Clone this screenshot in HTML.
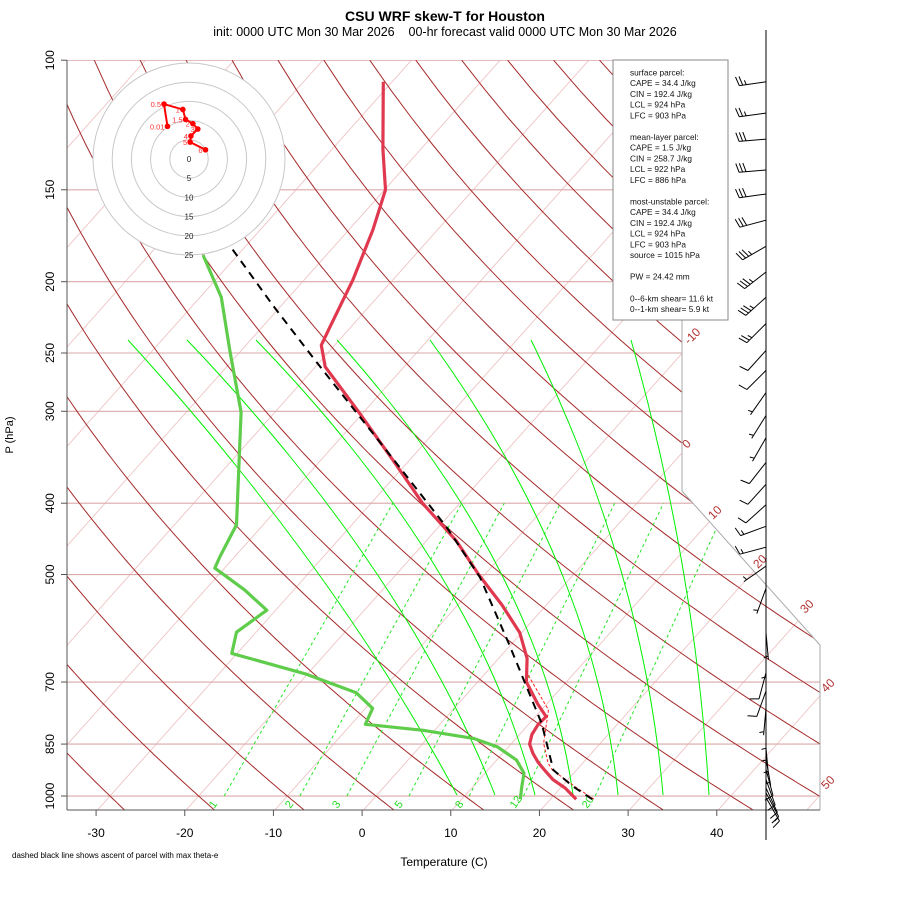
<!DOCTYPE html>
<html><head><meta charset="utf-8"><style>
html,body{margin:0;padding:0;background:#fff;}
svg{display:block;font-family:"Liberation Sans",sans-serif;}
</style></head><body>
<svg id="chart" xmlns="http://www.w3.org/2000/svg" width="900" height="900" viewBox="0 0 900 900">
<defs><clipPath id="plotclip"><polygon points="67,60 682,60 682,491 820,645 820,810 67,810"/></clipPath></defs>
<rect x="0" y="0" width="900" height="900" fill="#fff"/>
<text x="445" y="21" text-anchor="middle" font-size="14" font-weight="bold">CSU WRF skew-T for Houston</text>
<text x="445" y="36" text-anchor="middle" font-size="12.5" xml:space="preserve">init: 0000 UTC Mon 30 Mar 2026&#160;&#160;&#160;&#160;00-hr forecast valid 0000 UTC Mon 30 Mar 2026</text>
<g id="bg" clip-path="url(#plotclip)"></g>
<g id="border">
<polyline points="682,60 682,491 820,645 820,810" fill="none" stroke="#aaa" stroke-width="1"/>
<line x1="67" y1="60" x2="67" y2="810" stroke="#555" stroke-width="1"/>
<line x1="67" y1="810" x2="820" y2="810" stroke="#555" stroke-width="1"/>
</g>
<g id="labels"></g>
<g id="series"></g>
<g id="hodo"></g>
<g id="barbs"><line x1="766" y1="30" x2="766" y2="840" stroke="#000" stroke-width="1"/></g>
<g id="legend"><rect x="613" y="60" width="115" height="260" fill="#fff" stroke="#888" stroke-width="1"/></g>
<text transform="translate(13,435) rotate(-90)" text-anchor="middle" font-size="11">P (hPa)</text>
<text x="444" y="866" text-anchor="middle" font-size="12">Temperature (C)</text>
<text x="12" y="858" font-size="8">dashed black line shows ascent of parcel with max theta-e</text>
</svg>
<script>
// ---- data ----
const tempP = [1010,975,950,925,900,875,850,825,800,780,750,700,650,600,550,500,450,400,350,300,261,244,230,199,170,150,132,107];
const tempT = [22.9,20.5,18.3,16.6,14.9,13.4,12.1,11.4,11.1,11.2,9.0,5.5,3.2,-0.2,-5.0,-10.7,-16.6,-24.2,-31.8,-40.7,-48.9,-51.5,-52.4,-54.5,-57.3,-59.9,-64.3,-71.0];
const dewP = [1010,971,931,893,857,835,814,799,760,724,683,640,599,559,525,490,472,428,332,301,248,210,184];
const dewT = [16.6,15.5,14.4,12.2,8.7,5.2,-1.3,-8.4,-9.2,-12.6,-20.1,-30.6,-32.2,-31.0,-35.5,-41.1,-41.7,-43.0,-50.8,-53.8,-61.3,-67.6,-73.9];
const parcelP = [1010,971,922,797,703,620,504,431,339,257,216,180,106];
const parcelT = [24.7,21.3,17.4,11.4,5.5,-0.4,-10.3,-19.1,-33.6,-50.4,-60.8,-71.4,-99.4];
const vtP = [1010,971,922,902,848,764,681];
const vtT = [24.9,21.5,17.3,16.1,13.6,10.8,4.7];
const windP = [107,118,128,141,152,165,179,194,210,228,248,264,283,304,326,352,377,402,430,459,487,522,600,640,680,720,760,800,830,860,890,920,950,975,990,1005];
const windDir = [262,262,265,265,262,255,240,232,228,225,222,225,215,212,210,218,222,228,250,255,235,200,175,180,195,200,185,180,180,175,170,165,160,155,152,150];
const windSpd = [25,25,30,30,30,30,35,35,35,25,10,10,5,5,5,10,10,10,15,15,5,5,5,5,10,10,5,5,5,5,5,10,10,10,10,15];
const hodoU = [-5.6,-6.5,-1.6,-0.9,1.0,2.3,0.5,0.3,4.3];
const hodoV = [8.5,14.3,12.9,10.3,9.2,7.8,6.0,4.4,2.4];
const hodoLab = ["0.01","0.5","1","1.5","2","3","4","5","6"];
const pressTicks = [100,150,200,250,300,400,500,700,850,1000];
const tempTicks = [-30,-20,-10,0,10,20,30,40];
const mixRatios = [1,2,3,5,8,12,20];
const isoLabels = [-10,0,10,20,30,40,50];
// moist adiabat guide curves (background): x at y=795, y=600, y=340
const moistBottomX = [457,495,535,573,618,663,709];
const moistMidX = [337,394,455,514,572,629,688];
const moistTopX = [128,187,256,337,430,531,631];
const legendLines = ["surface parcel:","CAPE = 34.4 J/kg","CIN = 192.4 J/kg","LCL = 924 hPa","LFC = 903 hPa","","mean-layer parcel:","CAPE = 1.5 J/kg","CIN = 258.7 J/kg","LCL = 922 hPa","LFC = 886 hPa","","most-unstable parcel:","CAPE = 34.4 J/kg","CIN = 192.4 J/kg","LCL = 924 hPa","LFC = 903 hPa","source = 1015 hPa","","PW =  24.42 mm","","0--6-km shear= 11.6 kt","0--1-km shear= 5.9 kt"];

// ---- axes ----
const NS='http://www.w3.org/2000/svg';
function ty(p){return 132.182-44.061*Math.log10(p);}
function Y(p){return 796-16.7*ty(p);}
function X(T,p){return 376+16.42*(0.54*T+0.90692*ty(p));}
function mk(tag,attrs,parent){const e=document.createElementNS(NS,tag);for(const k in attrs)e.setAttribute(k,attrs[k]);parent.appendChild(e);return e;}
function pathFrom(P,T){let d='';for(let i=0;i<P.length;i++){d+=(i?'L':'M')+X(T[i],P[i]).toFixed(1)+','+Y(P[i]).toFixed(1);}return d;}
const bg=document.getElementById('bg');
const labels=document.getElementById('labels');
const series=document.getElementById('series');

// isotherms
for(let T=-110;T<=50;T+=10){
  const l=mk('line',{x1:X(T,1050),y1:Y(1050),x2:X(T,100),y2:Y(100),stroke:'#efc4c4','stroke-width':0.9},bg);
  
  
}
// pressure lines
pressTicks.forEach(p=>{
  const l=mk('line',{x1:67,y1:Y(p),x2:820,y2:Y(p),stroke:'#dba8a8','stroke-width':1.1},bg);
  
  
});
// dry adiabats
for(let th=-30;th<=180;th+=10){
  let d='';let first=true;
  for(let p=1050;p>=100;p-=10){const T=(th+273.15)*Math.pow(p/1000,0.2857)-273.15;d+=(first?'M':'L')+X(T,p).toFixed(1)+','+Y(p).toFixed(1);first=false;}
  const pa=mk('path',{d:d,fill:'none',stroke:'#a52a2a','stroke-width':1},bg);
  
  
}
// moist adiabats (quadratic through three guide points)
moistBottomX.forEach((xb,i)=>{
  const y0=795,y1=600,y2=340,x1=moistMidX[i],x2=moistTopX[i];
  let d='';
  for(let y=y0;y>=y2;y-=5){
    const L0=(y-y1)*(y-y2)/((y0-y1)*(y0-y2)),L1=(y-y0)*(y-y2)/((y1-y0)*(y1-y2)),L2=(y-y0)*(y-y1)/((y2-y0)*(y2-y1));
    const x=xb*L0+x1*L1+x2*L2;
    d+=(y===y0?'M':'L')+x.toFixed(1)+','+y;
  }
  const pa=mk('path',{d:d,fill:'none',stroke:'#00f000','stroke-width':1},bg);
  
  
});
// mixing ratio lines
function tdw(w,p){const e=w*p/(622+w);const l=Math.log(e/6.112);return 243.5*l/(17.67-l);}
mixRatios.forEach(w=>{
  const l=mk('line',{x1:X(tdw(w,1000),1000),y1:Y(1000),x2:X(tdw(w,400),400),y2:Y(400),stroke:'#22e622','stroke-width':1,'stroke-dasharray':'3,3'},bg);
  
  
  const lx=X(tdw(w,1045),1045);
  const t=mk('text',{transform:'translate('+(lx-2)+',809) rotate(-55)','font-size':11,fill:'#22dd22'},labels);
  t.textContent=String(w);
  
  
});
// isotherm labels
const isoPos=[[689,345],[687,449],[713,520],[758,569],[805,614],[826,693],[826,790]];
isoLabels.forEach((v,i)=>{
  const t=mk('text',{transform:'translate('+isoPos[i][0]+','+isoPos[i][1]+') rotate(-45)','font-size':12,fill:'#b33030'},labels);
  t.textContent=String(v);
  
  
});
// y ticks
pressTicks.forEach(p=>{
  const y=Y(p);
  const tk=mk('line',{x1:61,y1:y,x2:67,y2:y,stroke:'#555','stroke-width':1},labels);
  
  
  const t=mk('text',{transform:'translate(54,'+y+') rotate(-90)','text-anchor':'middle','font-size':12},labels);
  t.textContent=String(p);
  
  
});
// x ticks
tempTicks.forEach(T=>{
  const x=362.1+8.867*T;
  const tk=mk('line',{x1:x,y1:810,x2:x,y2:816,stroke:'#555','stroke-width':1},labels);
  
  
  const t=mk('text',{x:x,y:837,'text-anchor':'middle','font-size':12},labels);
  t.textContent=String(T);
  
  
});

// ---- series ----
const dew=mk('path',{d:pathFrom(dewP,dewT),fill:'none',stroke:'#5fcd4b','stroke-width':3.2,'stroke-linejoin':'round'},series);


const tmp=mk('path',{d:pathFrom(tempP,tempT),fill:'none',stroke:'#e0394f','stroke-width':3.2,'stroke-linejoin':'round'},series);


const vt=mk('path',{d:pathFrom(vtP,vtT),fill:'none',stroke:'#ff2020','stroke-width':1,'stroke-dasharray':'3,2'},series);


const par=mk('path',{d:pathFrom(parcelP,parcelT),fill:'none',stroke:'#000','stroke-width':2,'stroke-dasharray':'8,6'},series);



// ---- hodograph ----
const hodo=document.getElementById('hodo');
const hcx=189,hcy=159,hs=19.2/5;
for(let k=5;k>=1;k--){
  const c=mk('circle',{cx:hcx,cy:hcy,r:k*19.2,fill:k===5?'#fff':'none',stroke:'#c8c8c8','stroke-width':1},hodo);
  
  
}
for(let k=0;k<=5;k++){
  const t=mk('text',{x:hcx,y:hcy+k*19.2+3,'text-anchor':'middle','font-size':8,fill:'#222'},hodo);
  t.textContent=String(k*5);
  
  
}
let hd='';
hodoU.forEach((u,i)=>{hd+=(i?'L':'M')+(hcx+u*hs).toFixed(1)+','+(hcy-hodoV[i]*hs).toFixed(1);});
const hl=mk('path',{d:hd,fill:'none',stroke:'#f00','stroke-width':2},hodo);


hodoU.forEach((u,i)=>{
  const px=hcx+u*hs,py=hcy-hodoV[i]*hs;
  const c=mk('circle',{cx:px,cy:py,r:2.8,fill:'#f00'},hodo);
  
  
  const t=mk('text',{x:px-3,y:py+3,'text-anchor':'end','font-size':7.5,fill:'#f33'},hodo);
  t.textContent=hodoLab[i];
  
  
});

// ---- wind barbs ----
const barbs=document.getElementById('barbs');
windP.forEach((p,i)=>{
  const y=Y(p),x0=766,L=27;
  const r=windDir[i]*Math.PI/180;
  const sx=Math.sin(r),sy=-Math.cos(r);
  const fx=-sy,fy=sx;
  const g=mk('g',{},barbs);
  
  
  const ex=x0+L*sx,ey=y+L*sy;
  let d='M'+x0+','+y.toFixed(1)+'L'+ex.toFixed(1)+','+ey.toFixed(1);
  let spd=Math.round(windSpd[i]/5)*5;
  let pos=0;
  while(spd>=10){const bx=ex-pos*sx,by=ey-pos*sy;d+='M'+bx.toFixed(1)+','+by.toFixed(1)+'L'+(bx+9*fx+2.5*sx).toFixed(1)+','+(by+9*fy+2.5*sy).toFixed(1);pos+=3.5;spd-=10;}
  if(spd>=5){const pp=pos===0?3.5:pos;const bx=ex-pp*sx,by=ey-pp*sy;d+='M'+bx.toFixed(1)+','+by.toFixed(1)+'L'+(bx+4.5*fx+1.2*sx).toFixed(1)+','+(by+4.5*fy+1.2*sy).toFixed(1);}
  mk('path',{d:d,fill:'none',stroke:'#000','stroke-width':1},g);
});

// ---- legend ----
const lg=document.getElementById('legend');
legendLines.forEach((s,i)=>{
  if(!s)return;
  const t=mk('text',{x:630,y:75.3+i*10.76,'font-size':8.3,fill:'#111'},lg);
  t.textContent=s;
  
  
});
</script>
</body></html>
